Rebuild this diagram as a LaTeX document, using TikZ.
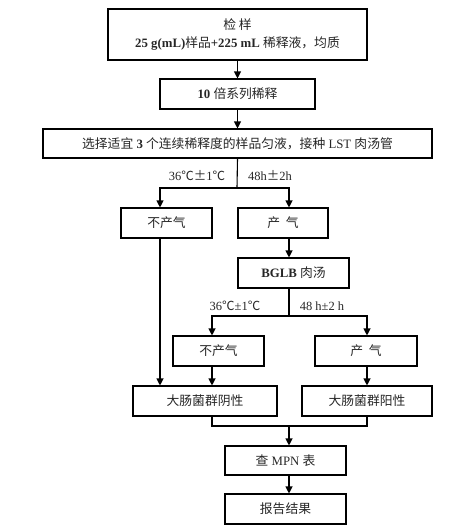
\documentclass[tikz,border=0pt]{standalone}
\usepackage{fontspec}
\setmainfont{Liberation Serif}
\newfontfamily\cj{Noto Sans CJK SC}
\usetikzlibrary{arrows.meta}
\begin{document}
\begin{tikzpicture}[x=1pt,y=-1pt,
  box/.style={draw, line width=1.1pt, inner sep=0pt, minimum height=30pt, align=center,
    font=\fontsize{12.8}{18}\selectfont, text=black!85},
  lbl/.style={inner sep=0pt, font=\fontsize{12.5}{14}\selectfont, text=black!85},
  ln/.style={line width=1.1pt},
  arr/.style={line width=1.1pt, -{Triangle[length=7pt,width=7pt]}}]
\useasboundingbox (0,0) rectangle (469,530);
% boxes
\node[box, minimum width=259pt, minimum height=51pt] (b1) at (237.5,34.5)
  {{\cj 检\ 样}\\\textbf{25 g(mL)}{\cj 样品}\textbf{+225 mL} {\cj 稀释液，均质}};
\node[box, minimum width=155pt] (b2) at (237.5,94) {\textbf{10} {\cj 倍系列稀释}};
\node[box, minimum width=389pt, minimum height=29pt] (b3) at (237.5,143.5)
  {{\cj 选择适宜} \textbf{3} {\cj 个连续稀释度的样品匀液，接种} LST {\cj 肉汤管}};
\node[box, minimum width=91pt] (n1) at (166.5,223) {\cj 不产气};
\node[box, minimum width=90pt] (p1) at (283,223) {\cj 产\ \ 气};
\node[box, minimum width=111pt] (bglb) at (293.5,273) {\textbf{BGLB} {\cj 肉汤}};
\node[box, minimum width=91pt] (n2) at (218.5,351) {\cj 不产气};
\node[box, minimum width=102pt] (p2) at (366,351) {\cj 产\ \ 气};
\node[box, minimum width=144pt] (neg) at (205,401) {\cj 大肠菌群阴性};
\node[box, minimum width=130pt] (pos) at (367,401) {\cj 大肠菌群阳性};
\node[box, minimum width=121pt, minimum height=29pt] (mpn) at (285.5,460.5) {{\cj 查} MPN {\cj 表}};
\node[box, minimum width=121pt] (rep) at (285.5,509) {\cj 报告结果};
% labels
\node[lbl] (l1) at (197,176) {36{\cj ℃±}1{\cj ℃}};
\node[lbl] (l2) at (270,176) {48h{\cj ±}2h};
\node[lbl] (l3) at (235,306) {36{\cj ℃}±1{\cj ℃}};
\node[lbl] (l4) at (322,306) {48 h±2 h};
% helper coordinates
\coordinate (s1) at (237,188);
\coordinate (xa) at (160,0);
\coordinate (xb) at (289,0);
\coordinate (s2) at (289,316);
\coordinate (xc) at (212,0);
\coordinate (xd) at (367,0);
\coordinate (s3) at (289,426);
% connectors
\draw[arr] (b1.south) -- (b2.north);
\draw[arr] (b2.south) -- (b3.north);
\draw[ln] (b3.south) -- (s1);
\draw[arr] (s1) -| (xa |- n1.north);
\draw[arr] (s1) -| (xb |- p1.north);
\draw[arr] (xb |- p1.south) -- (xb |- bglb.north);
\draw[ln] (xb |- bglb.south) -- (s2);
\draw[arr] (s2) -| (xc |- n2.north);
\draw[arr] (s2) -| (xd |- p2.north);
\draw[arr] (xa |- n1.south) -- (xa |- neg.north);
\draw[arr] (xc |- n2.south) -- (xc |- neg.north);
\draw[arr] (xd |- p2.south) -- (xd |- pos.north);
\draw[ln] (xc |- neg.south) |- (s3);
\draw[ln] (xd |- pos.south) |- (s3);
\draw[arr] (s3) -- (mpn.north -| s3);
\draw[arr] (mpn.south -| s3) -- (rep.north -| s3);
\end{tikzpicture}
\end{document}
